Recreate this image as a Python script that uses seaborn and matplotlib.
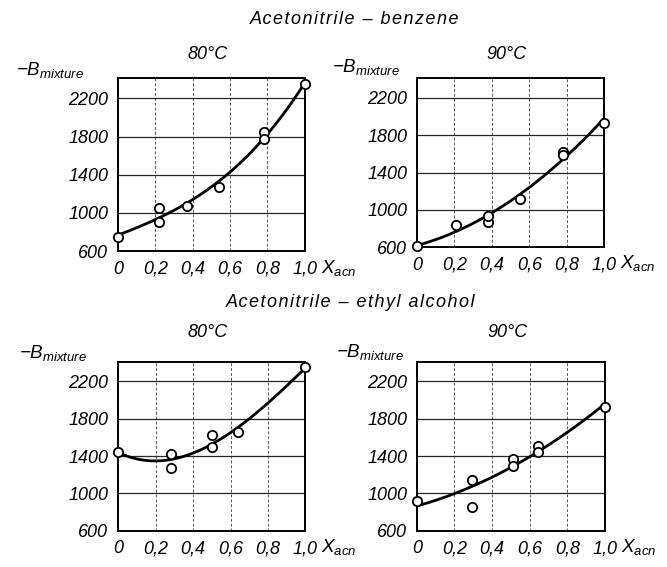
import numpy as np
import pandas as pd
import matplotlib.pyplot as plt
import seaborn as sns

bz80_x = [0, 0.22, 0.22, 0.37, 0.54, 0.78, 0.78, 1.0]
bz80_y = [750, 1055, 910, 1075, 1275, 1850, 1770, 2345]
bz90_x = [0, 0.21, 0.38, 0.38, 0.55, 0.78, 0.78, 1.0]
bz90_y = [615, 835, 870, 930, 1120, 1620, 1590, 1930]
et80_x = [0, 0.28, 0.28, 0.50, 0.50, 0.64, 1.0]
et80_y = [1445, 1420, 1270, 1625, 1500, 1660, 2350]
et90_x = [0, 0.295, 0.295, 0.51, 0.51, 0.645, 0.645, 1.0]
et90_y = [915, 1145, 855, 1365, 1290, 1505, 1445, 1930]

temps = ["80°C", "90°C", "80°C", "90°C"]
systems = ["Acetonitrile – benzene", "Acetonitrile – ethyl alcohol"]
x_ticks = [0, 0.2, 0.4, 0.6, 0.8, 1.0]
x_ticklabels = ["0", "0,2", "0,4", "0,6", "0,8", "1,0"]
y_ticks = [600, 1000, 1400, 1800, 2200]

sns.set_style("white")
plt.rcParams['font.family'] = ['Liberation Sans', 'DejaVu Sans']
plt.rcParams['font.style'] = 'italic'
plt.rcParams['mathtext.fontset'] = 'custom'
plt.rcParams['mathtext.it'] = 'Liberation Sans:italic'
plt.rcParams['mathtext.rm'] = 'Liberation Sans:italic'
plt.rcParams['mathtext.default'] = 'it'
plt.rcParams['text.color'] = 'black'
plt.rcParams['xtick.color'] = 'black'
plt.rcParams['ytick.color'] = 'black'


def spaced(s):
    # the scan uses wide letter spacing for the system names
    return "\u200a".join(s)


fig = plt.figure(figsize=(6.67, 5.67), dpi=100)

# axes boxes [left, bottom, width, height] in figure fractions
boxes = [
    [0.177, 0.557, 0.280, 0.305],
    [0.625, 0.564, 0.281, 0.298],
    [0.177, 0.064, 0.281, 0.298],
    [0.625, 0.064, 0.282, 0.298],
]
datasets = [(bz80_x, bz80_y), (bz90_x, bz90_y), (et80_x, et80_y), (et90_x, et90_y)]
fit_orders = [3, 2, 3, 2]
# where the -B_mixture label sits (figure px from top-left)
ylab_pos = [(50, 70), (366, 67), (53, 353), (370, 352)]

for i, (box, (xs, ys)) in enumerate(zip(boxes, datasets)):
    ax = fig.add_axes(box)
    df = pd.DataFrame({"x": xs, "y": ys})
    sns.regplot(data=df, x="x", y="y", order=fit_orders[i], ci=None, scatter=False,
                line_kws=dict(color="black", lw=2), ax=ax)
    sns.scatterplot(data=df, x="x", y="y", ax=ax, s=45, facecolor="white",
                    edgecolor="black", linewidth=1.3, zorder=5, clip_on=False)
    ax.set_xlim(0, 1.0)
    ax.set_ylim(600, 2410)
    ax.set_xticks(x_ticks)
    ax.set_xticklabels(x_ticklabels)
    ax.set_yticks(y_ticks)
    ax.tick_params(length=0, labelsize=13, pad=7)
    plt.setp(ax.get_xticklabels() + ax.get_yticklabels(), fontstyle="italic")
    ax.set_xlabel("")
    ax.set_ylabel("")
    ax.yaxis.grid(True, ls="-", lw=0.9, color="0.15")
    ax.xaxis.grid(True, ls=(0, (3, 2)), lw=0.7, color="0.35")
    for sp in ax.spines.values():
        sp.set_color("black")
        sp.set_linewidth(1.4)
    ax.text(1.085, -0.095, "$X_{acn}$", transform=ax.transAxes, fontsize=13.5,
            ha="left", va="center")
    px, py = ylab_pos[i]
    fig.text(px / 667, 1 - py / 567, "$-B_{mixture}$", fontsize=13.5,
             ha="center", va="center")
    cx = box[0] + box[2] * 0.48
    fig.text(cx, box[1] + box[3] + (0.041 if i < 2 else 0.051),
             temps[i], fontsize=13, ha="center", va="center")

fig.text(0.532, 0.965, spaced(systems[0]), fontsize=13, ha="center", va="center")
fig.text(0.525, 0.466, spaced(systems[1]), fontsize=13, ha="center", va="center")

fig.savefig("out.png", dpi=100)
